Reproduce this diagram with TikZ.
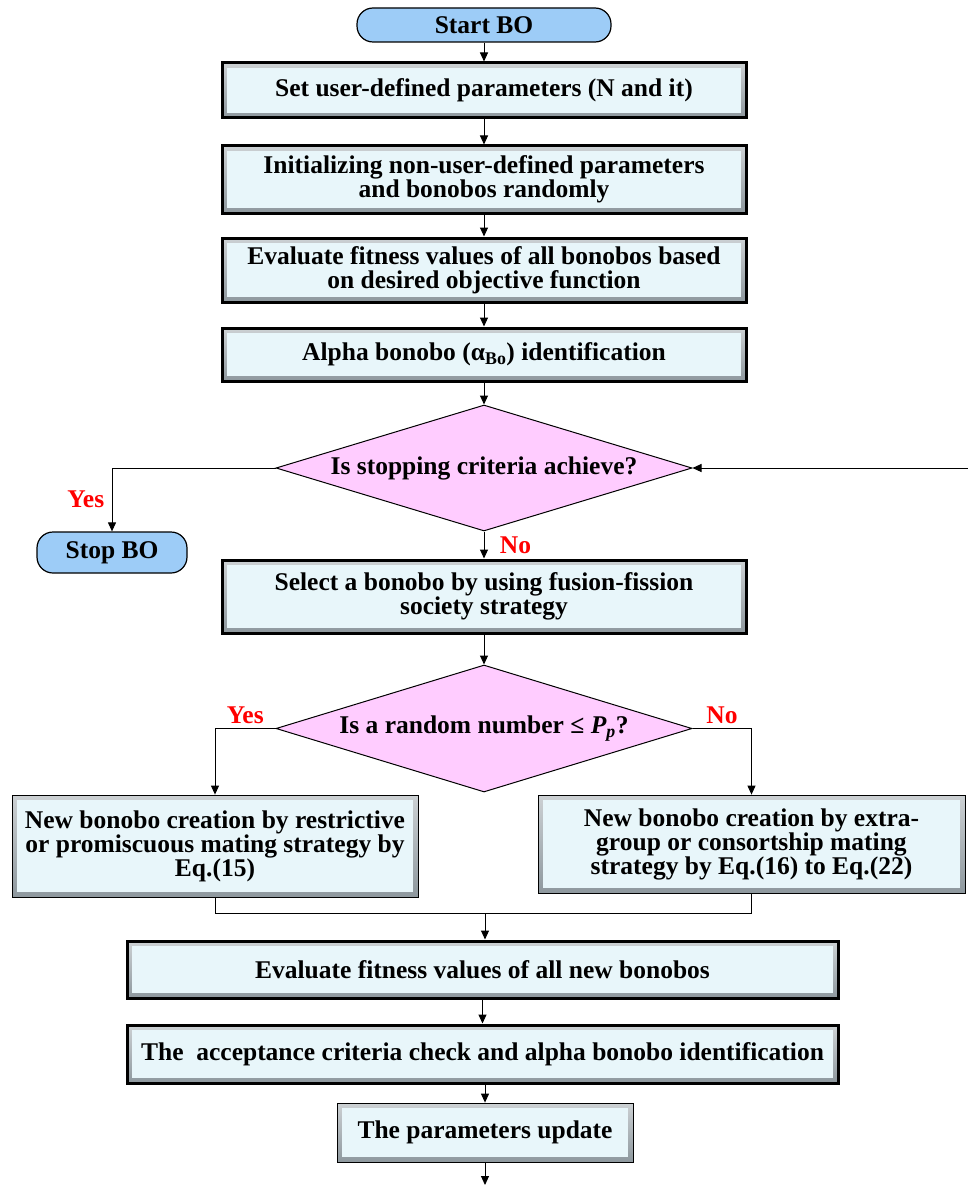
\documentclass[tikz,border=0pt]{standalone}
\usepackage{fontspec}
\setmainfont{Liberation Serif}
\usepackage{xcolor}
\usepackage{tikz}
\usetikzlibrary{shapes.geometric, arrows.meta, positioning, calc}
\definecolor{bosky}{HTML}{9DCCF7}
\definecolor{bopink}{HTML}{FFCCFF}
\definecolor{boface}{HTML}{E8F6FA}
\definecolor{boedge}{HTML}{8E989E}
\definecolor{bored}{HTML}{FF0000}

\begin{document}
\begin{tikzpicture}[x=1pt, y=-1pt, font=\fontsize{25.5}{24}\selectfont\bfseries,
        term/.style={rounded corners=16pt, fill=bosky, draw=black, line width=1.2pt, inner sep=0pt},
        box/.style={draw=black, line width=0.8pt, top color=boedge!45, bottom color=boedge,
          inner sep=0pt, align=center,
          path picture={\fill[boface] ($(path picture bounding box.south west)+(5pt,5pt)$)
            rectangle ($(path picture bounding box.north east)+(-5pt,-5pt)$);}},
        thickbox/.style={box, line width=3pt},
        decision/.style={diamond, fill=bopink, draw=black, line width=1pt, inner sep=0pt,
          minimum width=416pt, minimum height=126pt},
        ans/.style={text=bored},
        arr/.style={-{Triangle[length=9pt,width=8pt]}, draw=black, line width=1pt},
        link/.style={draw=black, line width=1pt}]
        \useasboundingbox (0,0) rectangle (968,1185);
        \node[term, minimum width=254pt, minimum height=34pt] (start) at (484,25) {Start BO};
        \node[thickbox, minimum width=524pt, minimum height=55pt] (setpar) at (484,90.5) {Set user-defined parameters (N and it)};
        \node[thickbox, minimum width=524pt, minimum height=67pt] (init) at (484,179.5) {Initializing non-user-defined parameters\\and bonobos randomly};
        \node[thickbox, minimum width=524pt, minimum height=64pt] (evalall) at (484,270) {Evaluate fitness values of all bonobos based\\on desired objective function};
        \node[thickbox, minimum width=524pt, minimum height=53pt] (alpha) at (484,354.5) {Alpha bonobo (α\textsubscript{Bo}) identification};
        \node[decision] (stopq) at (484,468) {\makebox[0pt]{Is stopping criteria achieve?}};
        \node[term, minimum width=150pt, minimum height=41pt] (stop) at (112,552.5) {Stop BO};
        \node[thickbox, minimum width=524pt, minimum height=73pt] (select) at (484,596.5) {Select a bonobo by using fusion-fission\\society strategy};
        \node[decision, minimum height=127pt] (randq) at (484,728.5) {\makebox[0pt]{Is a random number ≤ \textit{P\textsubscript{p}}?}};
        \node[box, minimum width=406pt, minimum height=102pt] (restrict) at (215,846) {New bonobo creation by restrictive\\or promiscuous mating strategy by\\Eq.(15)};
        \node[box, minimum width=427pt, minimum height=98pt] (extra) at (751.5,844) {New bonobo creation by extra-\\group or consortship mating\\strategy by Eq.(16) to Eq.(22)};
        \node[thickbox, minimum width=711pt, minimum height=57pt] (evalnew) at (482.5,969.5) {Evaluate fitness values of all new bonobos};
        \node[thickbox, minimum width=711pt, minimum height=58pt] (accept) at (482.5,1054) {The\ \ acceptance criteria check and alpha bonobo identification};
        \node[box, minimum width=296pt, minimum height=59pt] (update) at (485,1132.5) {The parameters update};
        \coordinate (loopin) at (968,468);
        \coordinate (merge) at (485,913);
        \coordinate (out) at (485,1185);
        \draw[arr] (start) -- (setpar);
        \draw[arr] (setpar) -- (init);
        \draw[arr] (init) -- (evalall);
        \draw[arr] (evalall) -- (alpha);
        \draw[arr] (alpha) -- (stopq);
        \draw[arr] (loopin) -- (stopq.east);
        \draw[arr] (stopq.west) -| node[ans, pos=0.75, left=4pt] {Yes} (stop.north);
        \draw[arr] (stopq.south) -- node[ans, right=12pt] {No} (select.north);
        \draw[arr] (select) -- (randq);
        \draw[arr] (randq.west) -| node[ans, pos=0.25, above=1pt] {Yes} (restrict.north);
        \draw[arr] (randq.east) -| node[ans, pos=0.25, above=1pt] {No} (extra.north);
        \draw[link] (restrict.south) |- (merge) -| (extra.south);
        \draw[arr] (merge) -- (merge |- evalnew.north);
        \draw[arr] (evalnew) -- (accept);
        \draw[arr] (update.north |- accept.south) -- (update);
        \draw[arr] (update) -- (out);
      \end{tikzpicture}
\end{document}
